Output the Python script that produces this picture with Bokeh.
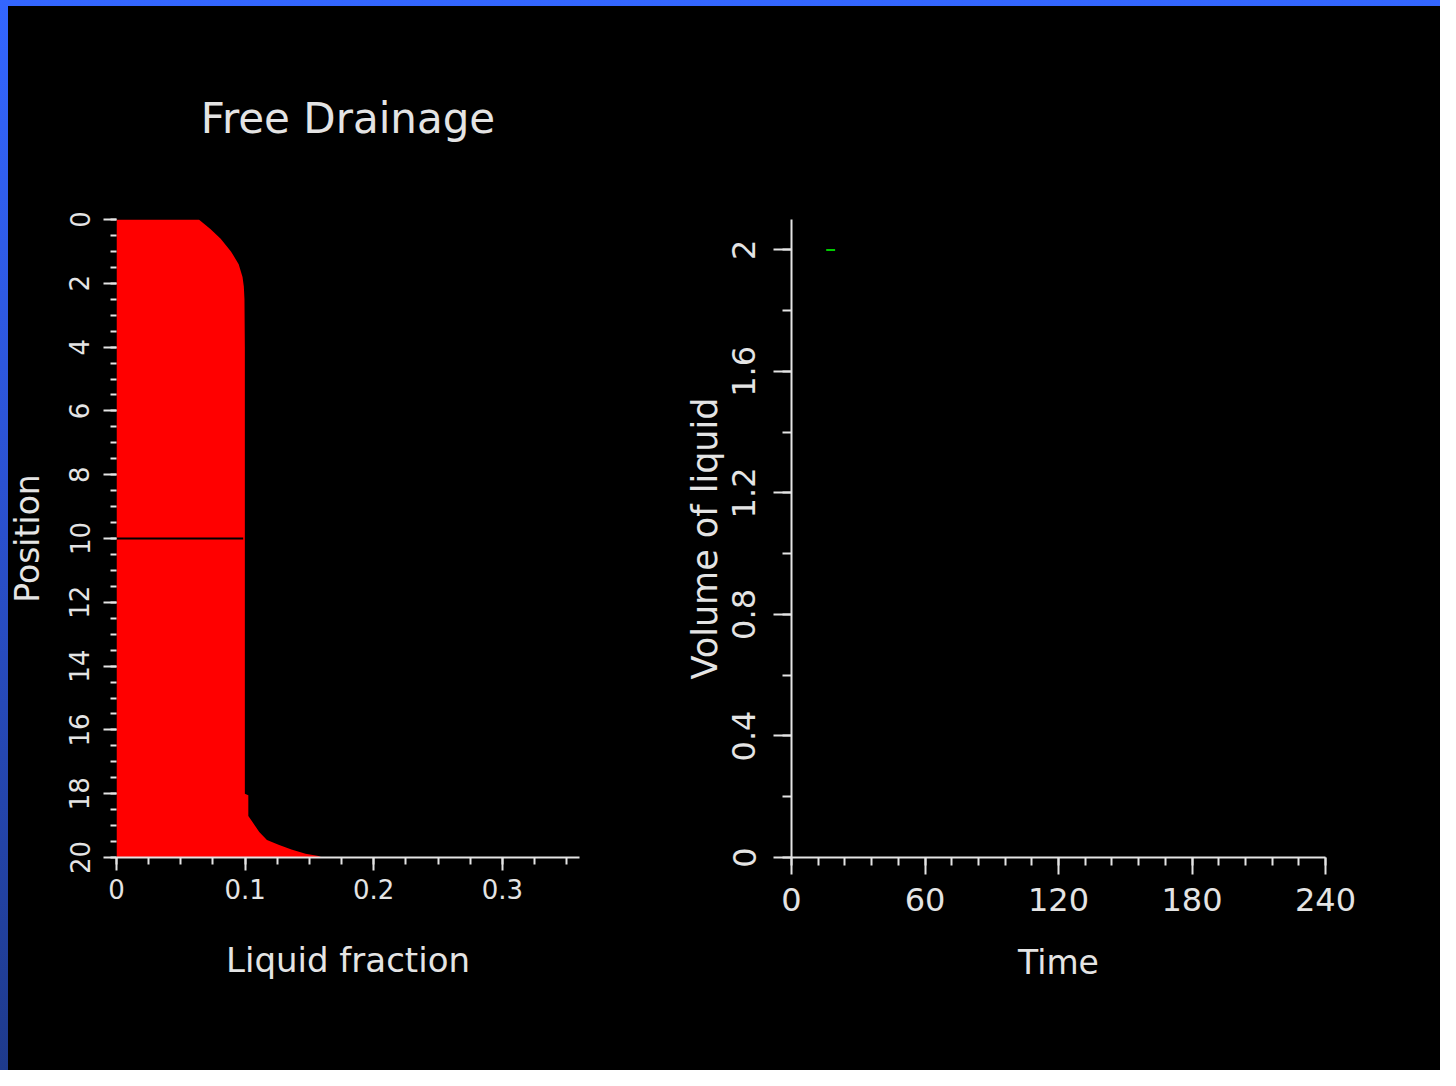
from bokeh.plotting import figure
from bokeh.models import Range1d, FixedTicker, PrintfTickFormatter, Spacer
from bokeh.layouts import row, column
from bokeh.embed import file_html
from bokeh.resources import INLINE

# ---------------- data ----------------
title_text = "Free Drainage"

# liquid fraction profile (left panel)
position = [0.0, 0.3, 0.6, 1.0, 1.4, 1.8, 2.1, 2.5, 4.0, 10.0, 16.0, 18.0,
            18.05, 18.7, 18.9, 19.2, 19.45, 19.6, 19.75, 19.88, 19.95, 20.0]
fraction = [0.064, 0.073, 0.081, 0.089, 0.095, 0.098, 0.099, 0.0995, 0.0998,
            0.0998, 0.0998, 0.0998, 0.1025, 0.1025, 0.106, 0.111, 0.117,
            0.126, 0.136, 0.147, 0.157, 0.160]
marker_position = [10.0, 10.0]
marker_fraction = [0.0, 0.0985]

# volume of liquid vs time (right panel)
time_vals = [15.6, 19.6]
volume_vals = [2.0, 2.0]

left_xticks = [0, 0.1, 0.2, 0.3]
left_xminor = [0.025 * i for i in range(15)]
left_yticks = [0, 2, 4, 6, 8, 10, 12, 14, 16, 18, 20]
left_yminor = [0.5 * i for i in range(41)]
right_xticks = [0, 60, 120, 180, 240]
right_xminor = [12 * i for i in range(21)]
right_yticks = [0, 0.4, 0.8, 1.2, 1.6, 2.0]
right_yminor = [0.2 * i for i in range(11)]

FONT = "DejaVu Sans"
FG = "#e4e4e4"
FIG_H = 1064
BLUE = "linear-gradient(180deg, #3366ff 0%, #2b52d2 45%, #1e3a8c 100%)"


def style_axis(ax, tick_size, label_size, tick_out, minor_out, label_standoff, axis_standoff):
    ax.axis_line_color = FG
    ax.axis_line_width = 2
    ax.major_tick_line_color = FG
    ax.major_tick_line_width = 2
    ax.minor_tick_line_color = FG
    ax.minor_tick_line_width = 2
    ax.major_tick_in = 0
    ax.minor_tick_in = 0
    ax.major_tick_out = tick_out
    ax.minor_tick_out = minor_out
    ax.major_label_text_color = FG
    ax.major_label_text_font = FONT
    ax.major_label_text_font_size = f"{tick_size}px"
    ax.major_label_standoff = label_standoff
    ax.axis_label_text_color = FG
    ax.axis_label_text_font = FONT
    ax.axis_label_text_font_style = "normal"
    ax.axis_label_text_font_size = f"{label_size}px"
    ax.axis_label_standoff = axis_standoff


def base_fig(width, xr, yr, mbl, mbr):
    p = figure(width=width, height=FIG_H, x_range=xr, y_range=yr,
               output_backend="svg", toolbar_location=None,
               min_border_left=mbl, min_border_right=mbr,
               min_border_top=213, min_border_bottom=213)
    p.background_fill_color = "black"
    p.border_fill_color = "black"
    p.outline_line_color = None
    p.xgrid.visible = False
    p.ygrid.visible = False
    return p


# ---------------- left panel ----------------
p1 = base_fig(655, Range1d(0, 0.36), Range1d(20, 0), 116, 76)
p1.border_fill_color = None  # lets the blue strip behind show at the far left
p1.harea(x1=0, x2=fraction, y=position, fill_color="#ff0000")
p1.line(marker_fraction, marker_position, line_color="black", line_width=2)

p1.title.text = title_text
p1.title.align = "center"
p1.title.text_color = FG
p1.title.text_font = FONT
p1.title.text_font_style = "normal"
p1.title.text_font_size = "42px"
p1.title.standoff = 153

p1.xaxis.ticker = FixedTicker(ticks=left_xticks, minor_ticks=left_xminor)
p1.yaxis.ticker = FixedTicker(ticks=left_yticks, minor_ticks=left_yminor)
p1.xaxis.formatter = PrintfTickFormatter(format="%g")
p1.yaxis.formatter = PrintfTickFormatter(format="%g")
p1.xaxis.axis_label = "Liquid fraction"
p1.yaxis.axis_label = "Position"
style_axis(p1.xaxis[0], 26, 34, 13, 7, 8, 38)
style_axis(p1.yaxis[0], 26, 33, 13, 6, 14, 20)
p1.yaxis.major_label_orientation = "vertical"
p1.yaxis.axis_line_color = None

# ---------------- right panel ----------------
p2 = base_fig(785, Range1d(0, 240), Range1d(0, 2.1), 136, 115)
p2.line(time_vals, volume_vals, line_color="#00cc00", line_width=2)

p2.xaxis.ticker = FixedTicker(ticks=right_xticks, minor_ticks=right_xminor)
p2.yaxis.ticker = FixedTicker(ticks=right_yticks, minor_ticks=right_yminor)
p2.xaxis.formatter = PrintfTickFormatter(format="%g")
p2.yaxis.formatter = PrintfTickFormatter(format="%g")
p2.xaxis.axis_label = "Time"
p2.yaxis.axis_label = "Volume of liquid"
style_axis(p2.xaxis[0], 32, 33, 17, 8, 13, 29)
style_axis(p2.yaxis[0], 32, 35, 18, 9, 18, 5)
p2.yaxis.major_label_orientation = "vertical"

plots = row(p1, p2, styles={
    "background": "linear-gradient(90deg, rgba(0,0,0,0) 8px, #000000 8px), " + BLUE,
})
lay = column(
    Spacer(width=1440, height=6),
    plots,
    styles={"background": BLUE},
)

open("out.html", "w").write(file_html(lay, INLINE))
